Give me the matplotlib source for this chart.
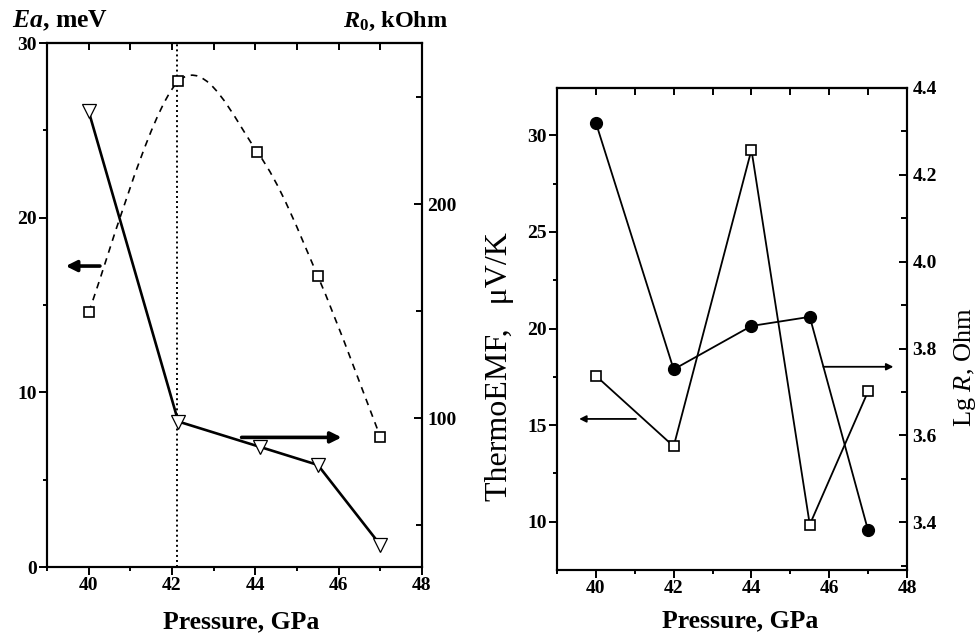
import numpy as np
import matplotlib
matplotlib.use('Agg')
import matplotlib.pyplot as plt
from matplotlib.path import Path
from matplotlib.patches import PathPatch

plt.rcParams['font.family'] = ['Liberation Serif', 'DejaVu Serif']
plt.rcParams['font.weight'] = 'bold'
plt.rcParams['mathtext.fontset'] = 'custom'
plt.rcParams['mathtext.rm'] = 'Liberation Serif:bold'
plt.rcParams['mathtext.it'] = 'Liberation Serif:style=italic:weight=normal'
plt.rcParams['mathtext.bf'] = 'Liberation Serif:bold'
plt.rcParams['mathtext.bfit'] = 'Liberation Serif:italic:bold'

# left panel: activation energy (left axis) and R0 (right axis)
p_ea = [40, 42.15, 44.05, 45.5, 47]
ea = [14.6, 27.8, 23.75, 16.65, 7.45]
p_r0 = [40, 42.15, 44.1, 45.5, 47]
r0 = [243.5, 98.5, 86.7, 78.2, 40.8]
p_mark = 42.12

# right panel: thermoEMF (left axis) and lg R (right axis)
p_emf = [40, 42, 44, 45.5, 47]
emf = [17.55, 13.9, 29.25, 9.85, 16.75]
p_lgr = [40, 42, 44, 45.5, 47]
lgr = [4.32, 3.752, 3.852, 3.873, 3.381]

x_ticks = [40, 42, 44, 46, 48]


def smooth_path(x, y):
    # catmull-rom through the points, drawn as bezier segments
    pts = np.column_stack([x, y])
    ext = np.vstack([pts[0], pts, pts[-1]])
    verts = [pts[0]]
    codes = [Path.MOVETO]
    for i in range(1, len(ext) - 2):
        p0, p1, p2, p3 = ext[i - 1], ext[i], ext[i + 1], ext[i + 2]
        verts += [p1 + (p2 - p0) / 6, p2 - (p3 - p1) / 6, p2]
        codes += [Path.CURVE4] * 3
    return Path(verts, codes)


def base_ticks(ax, ymaj, ymin):
    ax.set_xlim(39, 48)
    ax.set_xticks(x_ticks)
    ax.set_xticks(np.arange(39, 49, 1), minor=True)
    ax.set_yticks(ymaj)
    ax.set_yticks(ymin, minor=True)
    ax.tick_params(which='both', direction='out', top=False, right=False,
                   width=1.4, labelsize=14, pad=2)
    ax.tick_params(which='major', length=5.5)
    ax.tick_params(which='minor', length=3)
    for s in ax.spines.values():
        s.set_linewidth(1.5)
    top = ax.secondary_xaxis('top')
    top.set_xticks(x_ticks)
    top.set_xticks(np.arange(39, 49, 1), minor=True)
    top.tick_params(which='both', direction='in', labeltop=False, width=1.4, length=5)
    top.spines['top'].set_linewidth(1.5)


def twin_ticks(ax, ymaj, ymin):
    ax.set_yticks(ymaj)
    ax.set_yticks(ymin, minor=True)
    ax.tick_params(which='both', direction='in', width=1.4, labelsize=14, pad=4)
    ax.tick_params(which='major', length=5.5)
    ax.tick_params(which='minor', length=4)
    for s in ax.spines.values():
        s.set_linewidth(1.5)


fig = plt.figure(figsize=(9.77, 6.35), dpi=100)

# ---- left panel
ax1 = fig.add_axes([47 / 977, 68 / 635, 375 / 977, 524 / 635])
ax1.set_ylim(0, 30)
base_ticks(ax1, [0, 10, 20, 30], [5, 15, 25])
ax1.axvline(p_mark, color='k', lw=1.4, ls=(0, (1, 1.6)))
ax1.add_patch(PathPatch(smooth_path(p_ea, ea), fill=False, color='k',
                        lw=1.2, ls=(0, (4, 3.5))))
ax1.plot(p_ea, ea, ls='none', marker='s', ms=7, mfc='white', mec='k', mew=1.2, zorder=5)
ax1.annotate('', xy=(39.45, 17.23), xytext=(40.27, 17.23),
             arrowprops=dict(arrowstyle='-|>', lw=2.6, color='k', mutation_scale=16,
                             shrinkA=0, shrinkB=0))
ax1.annotate('', xy=(46.07, 7.42), xytext=(43.67, 7.42),
             arrowprops=dict(arrowstyle='-|>', lw=2.6, color='k', mutation_scale=16,
                             shrinkA=0, shrinkB=0))

ax1r = ax1.twinx()
ax1r.set_ylim(30.5, 275.4)
twin_ticks(ax1r, [100, 200], [50, 150, 250])
ax1r.plot(p_r0, r0, '-', color='k', lw=1.9, marker='v', ms=10,
          mfc='white', mec='k', mew=0.9)

fig.text(12 / 977, 1 - 27 / 635, r'$\mathbfit{Ea}$, meV', fontsize=18.5,
         ha='left', va='baseline')
fig.text(343 / 977, 1 - 27 / 635, r'$\mathbfit{R}_{\mathbf{0}}$, kOhm', fontsize=17.5,
         ha='left', va='baseline')
fig.text(241 / 977, 1 - 628 / 635, 'Pressure, GPa', fontsize=18.5,
         ha='center', va='baseline')

# ---- right panel
ax2 = fig.add_axes([557 / 977, 65 / 635, 350 / 977, 482 / 635])
ax2.set_ylim(7.5, 32.45)
base_ticks(ax2, [10, 15, 20, 25, 30], [12.5, 17.5, 22.5, 27.5])
ax2.plot(p_emf, emf, '-', color='k', lw=1.3, marker='s', ms=6.5,
         mfc='white', mec='k', mew=1.2)
ax2.annotate('', xy=(39.57, 15.32), xytext=(41.03, 15.32),
             arrowprops=dict(arrowstyle='-|>', lw=1.3, color='k', mutation_scale=10,
                             shrinkA=0, shrinkB=0))

ax2r = ax2.twinx()
ax2r.set_ylim(3.29, 4.4)
twin_ticks(ax2r, [3.4, 3.6, 3.8, 4.0, 4.2, 4.4], [3.3, 3.5, 3.7, 3.9, 4.1, 4.3])
ax2r.set_yticklabels(['3.4', '3.6', '3.8', '4.0', '4.2', '4.4'])
ax2r.plot(p_lgr, lgr, '-', color='k', lw=1.3, marker='o', ms=8.5,
          mfc='k', mec='k')
ax2r.annotate('', xy=(47.65, 3.758), xytext=(45.85, 3.758),
              arrowprops=dict(arrowstyle='-|>', lw=1.3, color='k', mutation_scale=10,
                              shrinkA=0, shrinkB=0))

fig.text(740 / 977, 1 - 627 / 635, 'Pressure, GPa', fontsize=18.5,
         ha='center', va='baseline')
fig.text(500 / 977, 1 - 367 / 635, 'ThermoEMF,   \u03bcV/K', fontsize=23,
         fontweight='normal', rotation=90, ha='center', va='center')
fig.text(965 / 977, 1 - 367 / 635, r'Lg $\mathit{R}$, Ohm', fontsize=19,
         fontweight='normal', rotation=90, ha='center', va='center')

fig.savefig('out.png', dpi=100)
